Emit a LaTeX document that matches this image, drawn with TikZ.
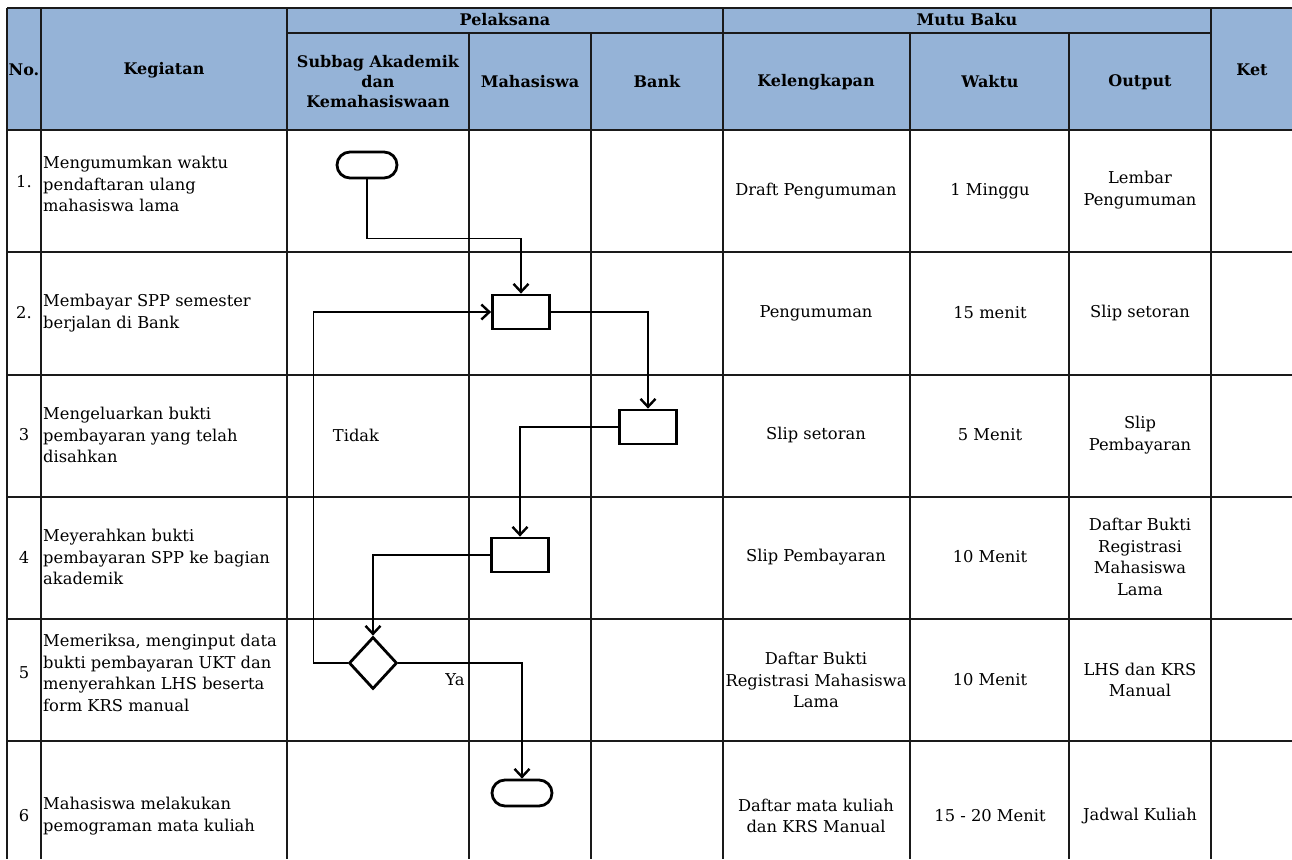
\documentclass[tikz,border=0pt]{standalone}
\usepackage{fontspec}
\setmainfont{DejaVu Serif}
\usepackage{tikz}
\usetikzlibrary{shapes.geometric,arrows.meta,positioning,calc}
\definecolor{headblue}{HTML}{95B3D7}
\definecolor{gridline}{HTML}{1A1A1A}

\begin{document}
\begin{tikzpicture}[
    x=1pt, y=-1pt,
    grid/.style={
        line width=1.7pt,
        color=gridline
    },
    flowbox/.style={
        rectangle,
        draw,
        line width=2.8pt,
        minimum width=57pt,
        minimum height=34pt
    },
    terminal/.style={
        rectangle,
        rounded corners=13pt,
        draw,
        line width=2.8pt,
        minimum width=60pt,
        minimum height=26pt
    },
    decision/.style={
        diamond,
        draw,
        line width=2.8pt,
        inner sep=0pt,
        minimum width=48pt,
        minimum height=52pt
    },
    flow/.style={
        ->,
        line width=1.2pt,
        >={Straight Barb[length=8pt,width=15pt,line width=2.4pt]}
    },
    head/.style={
        font=\fontsize{16}{20}\selectfont\bfseries,
        align=center
    },
    cell/.style={
        font=\fontsize{16.3}{21.7}\selectfont,
        align=center
    },
    task/.style={
        font=\fontsize{16.3}{21.7}\selectfont,
        align=left,
        anchor=west,
        inner sep=1pt
    }
]

\useasboundingbox (0,0) rectangle (1292,859);

% Header background
\fill[headblue] (7,8) rectangle (1292,130);

% Table grid
\foreach \y in {8,130,252,375,497,619,741} {
    \draw[grid] (7,\y) -- (1292,\y);
}
\draw[grid] (287,33) -- (1211,33);
\foreach \x in {7,41,287,723,1211} {
    \draw[grid] (\x,8) -- (\x,859);
}
\foreach \x in {469,591,910,1069} {
    \draw[grid] (\x,33) -- (\x,859);
}

% Header texts
\node[head] (hno) at (24,70) {No.};
\node[head] (hkeg) at (164,70) {Kegiatan};
\node[head] (hpel) at (505,20) {Pelaksana};
\node[head] (hsub) at (378,82) {Subbag Akademik\\dan\\Kemahasiswaan};
\node[head] (hmhs) at (530,82) {Mahasiswa};
\node[head] (hbank) at (657,82) {Bank};
\node[head] (hmutu) at (967,20) {Mutu Baku};
\node[head] (hkel) at (816,82) {Kelengkapan};
\node[head] (hwkt) at (990,82) {Waktu};
\node[head] (hout) at (1140,82) {Output};
\node[head] (hket) at (1252,70) {Ket};

% Numbers
\node[cell] (no1) at (24,182) {1.};
\node[cell] (no2) at (24,313) {2.};
\node[cell] (no3) at (24,435) {3};
\node[cell] (no4) at (24,557) {4};
\node[cell] (no5) at (24,673) {5};
\node[cell] (no6) at (24,816) {6};

% Kegiatan
\node[task] (keg1) at (42,184) {Mengumumkan waktu\\pendaftaran ulang\\mahasiswa lama};
\node[task] (keg2) at (42,313) {Membayar SPP semester\\berjalan di Bank};
\node[task] (keg3) at (42,435) {Mengeluarkan bukti\\pembayaran yang telah\\disahkan};
\node[task] (keg4) at (42,557) {Meyerahkan bukti\\pembayaran SPP ke bagian\\akademik};
\node[task] (keg5) at (42,673) {Memeriksa, menginput data\\bukti pembayaran UKT dan\\menyerahkan LHS beserta\\form KRS manual};
\node[task] (keg6) at (42,816) {Mahasiswa melakukan\\pemograman mata kuliah};

% Kelengkapan
\node[cell] (kel1) at (816,191) {Draft Pengumuman};
\node[cell] (kel2) at (816,313) {Pengumuman};
\node[cell] (kel3) at (816,435) {Slip setoran};
\node[cell] (kel4) at (816,557) {Slip Pembayaran};
\node[cell] (kel5) at (816,680) {Daftar Bukti\\Registrasi Mahasiswa\\Lama};
\node[cell] (kel6) at (816,816) {Daftar mata kuliah\\dan KRS Manual};

% Waktu
\node[cell] (wkt1) at (990,191) {1 Minggu};
\node[cell] (wkt2) at (990,313) {15 menit};
\node[cell] (wkt3) at (990,435) {5 Menit};
\node[cell] (wkt4) at (990,557) {10 Menit};
\node[cell] (wkt5) at (990,680) {10 Menit};
\node[cell] (wkt6) at (990,816) {15 - 20 Menit};

% Output
\node[cell] (out1) at (1140,190) {Lembar\\Pengumuman};
\node[cell] (out2) at (1140,313) {Slip setoran};
\node[cell] (out3) at (1140,435) {Slip\\Pembayaran};
\node[cell] (out4) at (1140,557) {Daftar Bukti\\Registrasi\\Mahasiswa\\Lama};
\node[cell] (out5) at (1140,680) {LHS dan KRS\\Manual};
\node[cell] (out6) at (1140,816) {Jadwal Kuliah};

% Flow symbols
\node[terminal] (start) at (367,165) {};
\node[flowbox] (bayar) at (521,312) {};
\node[flowbox] (bukti) at (648,427) {};
\node[flowbox] (serah) at (520,555) {};
\node[decision] (cek) at (373,663) {};
\node[terminal] (stop) at (522,793) {};

% Connections
\draw[flow] (start.south) -- ++(0,59) -| (bayar.north);
\draw[flow] (bayar.east) -| (bukti.north);
\draw[flow] (bukti.west) -| (serah.north);
\draw[flow] (serah.west) -| (cek.north);
\draw[flow] (cek.west) -- ++(-34,0) |- (bayar.west);
\draw[flow] (cek.east) -| (stop.north);

% Labels
\node[cell] (tidak) at (356,435) {Tidak};
\node[cell] (ya) at (455,680) {Ya};

\end{tikzpicture}
\end{document}
